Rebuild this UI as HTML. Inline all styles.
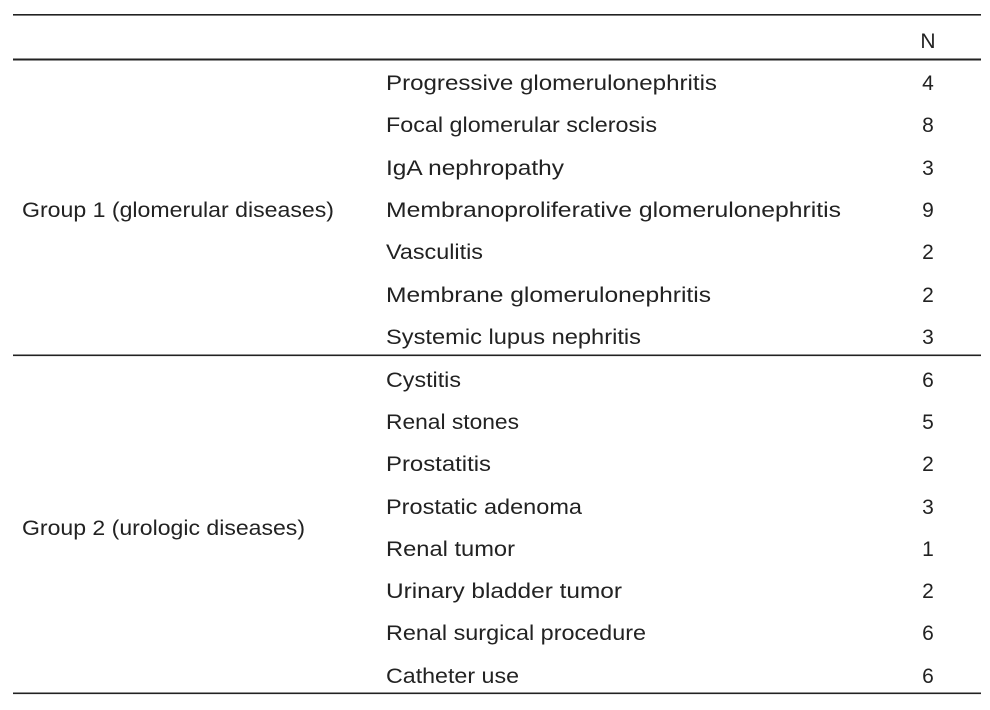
<!DOCTYPE html>
<html><head><meta charset="utf-8"><style>
html,body{margin:0;padding:0;background:#fff;width:990px;height:710px;overflow:hidden}
svg text{font-family:"Liberation Sans",sans-serif;font-size:21px;fill:#222}
</style></head><body>
<svg width="990" height="710" xmlns="http://www.w3.org/2000/svg">
<rect x="13" y="14" width="968" height="1.6" fill="#222"/>
<rect x="13" y="58.5" width="968" height="2" fill="#222"/>
<rect x="13" y="354.5" width="968" height="1.6" fill="#222"/>
<rect x="13" y="692.5" width="968" height="1.6" fill="#222"/>
<text x="928" y="48" text-anchor="middle">N</text>
<text x="22" y="217" textLength="312" lengthAdjust="spacingAndGlyphs">Group 1 (glomerular diseases)</text>
<text x="22" y="535" textLength="283" lengthAdjust="spacingAndGlyphs">Group 2 (urologic diseases)</text>
<g>
<text x="386" y="90" textLength="331" lengthAdjust="spacingAndGlyphs">Progressive glomerulonephritis</text><text x="928" y="90" text-anchor="middle">4</text>
<text x="386" y="132" textLength="271" lengthAdjust="spacingAndGlyphs">Focal glomerular sclerosis</text><text x="928" y="132" text-anchor="middle">8</text>
<text x="386" y="175" textLength="178" lengthAdjust="spacingAndGlyphs">IgA nephropathy</text><text x="928" y="175" text-anchor="middle">3</text>
<text x="386" y="217" textLength="455" lengthAdjust="spacingAndGlyphs">Membranoproliferative glomerulonephritis</text><text x="928" y="217" text-anchor="middle">9</text>
<text x="386" y="259" textLength="97" lengthAdjust="spacingAndGlyphs">Vasculitis</text><text x="928" y="259" text-anchor="middle">2</text>
<text x="386" y="302" textLength="325" lengthAdjust="spacingAndGlyphs">Membrane glomerulonephritis</text><text x="928" y="302" text-anchor="middle">2</text>
<text x="386" y="344" textLength="255" lengthAdjust="spacingAndGlyphs">Systemic lupus nephritis</text><text x="928" y="344" text-anchor="middle">3</text>
<text x="386" y="387" textLength="75" lengthAdjust="spacingAndGlyphs">Cystitis</text><text x="928" y="387" text-anchor="middle">6</text>
<text x="386" y="429" textLength="133" lengthAdjust="spacingAndGlyphs">Renal stones</text><text x="928" y="429" text-anchor="middle">5</text>
<text x="386" y="471" textLength="105" lengthAdjust="spacingAndGlyphs">Prostatitis</text><text x="928" y="471" text-anchor="middle">2</text>
<text x="386" y="514" textLength="196" lengthAdjust="spacingAndGlyphs">Prostatic adenoma</text><text x="928" y="514" text-anchor="middle">3</text>
<text x="386" y="556" textLength="129" lengthAdjust="spacingAndGlyphs">Renal tumor</text><text x="928" y="556" text-anchor="middle">1</text>
<text x="386" y="598" textLength="236" lengthAdjust="spacingAndGlyphs">Urinary bladder tumor</text><text x="928" y="598" text-anchor="middle">2</text>
<text x="386" y="640" textLength="260" lengthAdjust="spacingAndGlyphs">Renal surgical procedure</text><text x="928" y="640" text-anchor="middle">6</text>
<text x="386" y="683" textLength="133" lengthAdjust="spacingAndGlyphs">Catheter use</text><text x="928" y="683" text-anchor="middle">6</text>
</g>
</svg>
</body></html>
